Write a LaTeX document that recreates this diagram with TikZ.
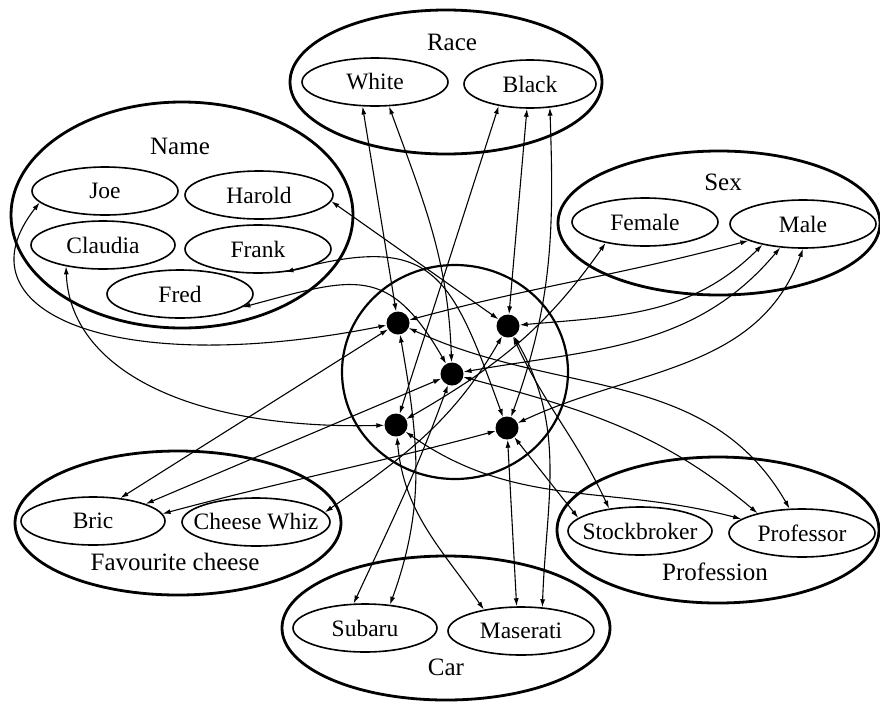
\documentclass[tikz,border=0pt]{standalone}
\usepackage{fontspec}
\setmainfont{Liberation Serif}
\usetikzlibrary{arrows.meta,shapes.geometric}

\begin{document}
\begin{tikzpicture}[x=1pt,y=1pt,
    group/.style={draw,ellipse,line width=2.8pt,inner sep=0pt},
    value/.style={draw,ellipse,line width=1.6pt,inner sep=0pt,inner xsep=-45pt,minimum width=146pt,minimum height=48pt,font=\fontsize{23.5}{26}\selectfont},
    title/.style={font=\fontsize{25}{28}\selectfont},
    person/.style={circle,fill=black,inner sep=0pt,minimum size=23pt},
    link/.style={{Latex[length=8pt,width=5pt]}-{Latex[length=8pt,width=5pt]},line width=1.1pt}]
    \useasboundingbox (0,0) rectangle (880,-702);

    \node[group,minimum width=312pt,minimum height=144pt] (race) at (446,-82) {};
    \node[title] (raceT) at (452,-42) {Race};
    \node[value] (white) at (375,-82) {White};
    \node[value,minimum width=132pt] (black) at (530,-84) {Black};

    \node[group,minimum width=342pt,minimum height=226pt] (name) at (182,-215) {};
    \node[title] (nameT) at (180,-146) {Name};
    \node[value] (joe) at (105,-191) {Joe};
    \node[value,minimum width=148pt] (harold) at (259,-195) {Harold};
    \node[value,minimum width=144pt] (claudia) at (103,-245) {Claudia};
    \node[value] (frank) at (258,-249) {Frank};
    \node[value] (fred) at (180,-294) {Fred};

    \node[group,minimum width=322pt,minimum height=144pt] (sex) at (719,-223) {};
    \node[title] (sexT) at (723,-182) {Sex};
    \node[value] (female) at (645,-222) {Female};
    \node[value] (male) at (803,-224) {Male};

    \node[group,minimum width=326pt,minimum height=144pt] (cheese) at (178,-523) {};
    \node[title] (cheeseT) at (175,-562) {Favourite cheese};
    \node[value,minimum width=144pt] (bric) at (93,-521) {Bric};
    \node[value,minimum width=148pt] (whiz) at (256,-522) {Cheese Whiz};

    \node[group,minimum width=328pt,minimum height=144pt] (car) at (446,-628) {};
    \node[title] (carT) at (446,-667) {Car};
    \node[value,minimum width=144pt] (subaru) at (365,-628) {Subaru};
    \node[value] (maserati) at (521,-631) {Maserati};

    \node[group,minimum width=322pt,minimum height=146pt] (prof) at (718,-530) {};
    \node[title] (profT) at (715,-572) {Profession};
    \node[value,minimum width=144pt] (stockbroker) at (640,-531) {Stockbroker};
    \node[value] (professor) at (802,-533) {Professor};

    \node[draw,ellipse,line width=2.2pt,minimum width=226pt,minimum height=214pt] (people) at (455,-372) {};
    \node[person] (p1) at (398,-323) {};
    \node[person] (p2) at (508,-326) {};
    \node[person] (p3) at (452,-374) {};
    \node[person] (p4) at (396,-425) {};
    \node[person] (p5) at (507,-428) {};

    \draw[link] (white.243) -- (p1);
    \draw[link] (white.300) to[out=-70,in=92] (p3);
    \draw[link] (black.263) -- (p2);
    \draw[link] (black.215) -- (p4);
    \draw[link] (black.310) to[out=-88,in=70] (p5);

    \draw[link] (joe.190) .. controls (-45,-310) and (110,-380) .. (p1);
    \draw[link] (claudia.210) .. controls (70,-370) and (190,-430) .. (p4);
    \draw[link] (harold.355) -- (p2);
    \draw[link] (frank.320) to[out=15,in=110,looseness=1.5] (p5);
    \draw[link] (fred.348) to[out=15,in=120,looseness=1.4] (p3);

    \draw[link] (male.197) to[out=195,in=15] (p1);
    \draw[link] (male.207) to[out=225,in=5] (p2);
    \draw[link] (male.226) to[out=230,in=10] (p3);
    \draw[link] (male.270) to[out=250,in=25] (p5);
    \draw[link] (female.208) to[out=235,in=30] (p4);

    \draw[link] (bric.40) -- (p1);
    \draw[link] (bric.18) -- (p3);
    \draw[link] (bric.6) to[out=15,in=195] (p5);
    \draw[link] (whiz.8) to[out=35,in=240] (p2);

    \draw[link] (subaru.43) to[out=70,in=280] (p1);
    \draw[link] (subaru.115) to[out=65,in=250] (p3);
    \draw[link] (maserati.150) to[out=125,in=275] (p4);
    \draw[link] (maserati.100) -- (p5);
    \draw[link] (maserati.48) to[out=88,in=300] (p2);

    \draw[link] (stockbroker.168) -- (p5);
    \draw[link] (stockbroker.144) to[out=115,in=295] (p2);
    \draw[link] (professor.167) to[out=165,in=-35] (p4);
    \draw[link] (professor.156) to[out=140,in=-15] (p3);
    \draw[link] (professor.117) to[out=120,in=-25] (p1);
\end{tikzpicture}
\end{document}
